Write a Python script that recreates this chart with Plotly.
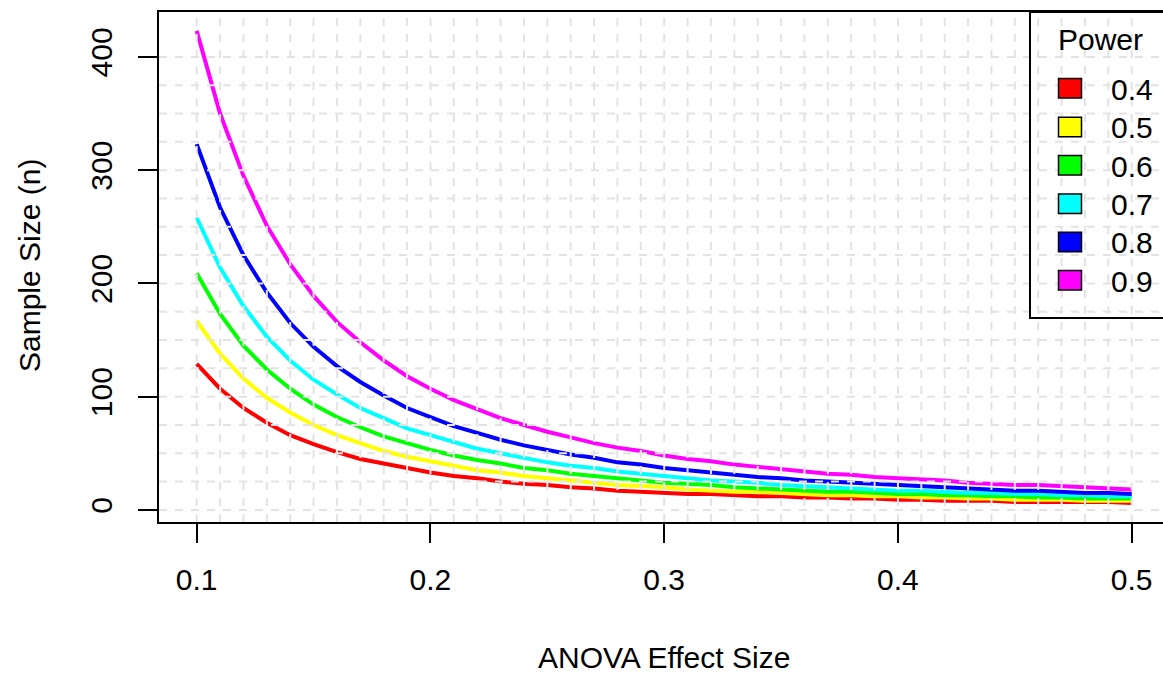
import plotly.graph_objects as go

# ---------------- data ----------------
effect_size = [0.10, 0.11, 0.12, 0.13, 0.14, 0.15, 0.16, 0.17, 0.18, 0.19,
               0.20, 0.21, 0.22, 0.23, 0.24, 0.25, 0.26, 0.27, 0.28, 0.29,
               0.30, 0.31, 0.32, 0.33, 0.34, 0.35, 0.36, 0.37, 0.38, 0.39,
               0.40, 0.41, 0.42, 0.43, 0.44, 0.45, 0.46, 0.47, 0.48, 0.49, 0.50]

n_power_04 = [129, 107, 90, 77, 66, 58, 51, 45, 41, 37, 33, 30, 28, 25, 23, 22, 20, 19, 17, 16,
              15, 14, 14, 13, 12, 12, 11, 11, 10, 10, 9, 9, 8, 8, 8, 7, 7, 7, 7, 7, 6]
n_power_05 = [167, 138, 116, 99, 86, 75, 66, 59, 52, 47, 43, 39, 35, 33, 30, 28, 26, 24, 22, 21,
              20, 18, 17, 16, 16, 15, 14, 13, 13, 12, 12, 11, 11, 10, 10, 9, 9, 9, 8, 8, 8]
n_power_06 = [209, 173, 145, 124, 107, 93, 82, 73, 65, 59, 53, 48, 44, 41, 37, 35, 32, 30, 28, 26,
              24, 23, 22, 20, 19, 18, 17, 16, 16, 15, 14, 14, 13, 13, 12, 12, 11, 11, 10, 10, 10]
n_power_07 = [258, 214, 180, 153, 132, 115, 102, 90, 81, 72, 66, 60, 54, 50, 46, 42, 39, 37, 34, 32,
              30, 28, 26, 25, 24, 22, 21, 20, 19, 18, 17, 17, 16, 15, 15, 14, 14, 13, 13, 12, 12]
n_power_08 = [323, 267, 225, 192, 165, 144, 127, 113, 101, 90, 82, 74, 68, 62, 57, 53, 49, 46, 42, 40,
              37, 35, 33, 31, 29, 28, 26, 25, 24, 23, 22, 21, 20, 19, 18, 17, 17, 16, 15, 15, 14]
n_power_09 = [423, 350, 295, 251, 217, 189, 166, 148, 132, 118, 107, 97, 89, 81, 75, 69, 64, 59, 55, 52,
              48, 45, 43, 40, 38, 36, 34, 32, 31, 29, 28, 27, 26, 24, 23, 22, 22, 21, 20, 19, 18]

power_labels = ["0.4", "0.5", "0.6", "0.7", "0.8", "0.9"]
series = [n_power_04, n_power_05, n_power_06, n_power_07, n_power_08, n_power_09]
colors = ["#FF0000", "#FFFF00", "#00FF00", "#00FFFF", "#0000FF", "#FF00FF"]

x_ticks = [0.1, 0.2, 0.3, 0.4, 0.5]
x_tick_text = ["0.1", "0.2", "0.3", "0.4", "0.5"]
y_ticks = [0, 100, 200, 300, 400]
y_tick_text = ["0", "100", "200", "300", "400"]

grid_v = [round(0.10 + 0.01 * i, 2) for i in range(41)]
grid_h = [25 * i for i in range(17)]

# ---------------- layout geometry ----------------
W, H = 1163, 673
ML, MR, MT, MB = 159, 0, 12, 151
PW = W - ML - MR
PH = H - MT - MB

FONT = "Liberation Sans, Arial, Helvetica, sans-serif"
FS = 30


def px_x(p):
    return (p - ML) / PW


def px_y(p):
    return (H - MB - p) / PH


fig = go.Figure()
for name, ys, col in zip(power_labels, series, colors):
    fig.add_trace(go.Scatter(x=effect_size, y=ys, mode="lines", name=name,
                             line=dict(color=col, width=4), showlegend=False,
                             hoverinfo="skip"))

shapes = []
grid_style = dict(color="#E3E3E3", width=2, dash="8px,8px")
for gx in grid_v:
    shapes.append(dict(type="line", xref="x", yref="paper", x0=gx, x1=gx, y0=0, y1=1,
                       line=grid_style, layer="above"))
for gy in grid_h:
    shapes.append(dict(type="line", xref="paper", yref="y", x0=0, x1=1, y0=gy, y1=gy,
                       line=grid_style, layer="above"))

# legend box (right part falls outside the window, as in the reference)
shapes.append(dict(type="rect", xref="paper", yref="paper",
                   x0=px_x(1030), x1=px_x(1175), y0=px_y(318), y1=px_y(12),
                   line=dict(color="black", width=2), fillcolor="rgba(0,0,0,0)",
                   layer="above"))
annotations = []
row_centers = [88.3, 127.0, 165.3, 203.7, 242.0, 280.3]
for lab, col, cy in zip(power_labels, colors, row_centers):
    shapes.append(dict(type="rect", xref="paper", yref="paper",
                       x0=px_x(1058.5), x1=px_x(1081.5),
                       y0=px_y(cy + 9.7), y1=px_y(cy - 9.7),
                       line=dict(color="black", width=1.5), fillcolor=col, layer="above"))
    annotations.append(dict(text=lab, xref="paper", yref="paper", x=px_x(1109), y=px_y(cy + 1),
                            xanchor="left", yanchor="middle", showarrow=False,
                            font=dict(family=FONT, size=FS, color="black")))
annotations.append(dict(text="Power", xref="paper", yref="paper", x=px_x(1100), y=px_y(39),
                        xanchor="center", yanchor="middle", showarrow=False,
                        font=dict(family=FONT, size=FS, color="black")))

# axis titles
annotations.append(dict(text="ANOVA Effect Size", xref="paper", yref="paper",
                        x=px_x(664), y=px_y(657), xanchor="center", yanchor="middle",
                        showarrow=False, font=dict(family=FONT, size=FS, color="black")))
annotations.append(dict(text="Sample Size (n)", xref="paper", yref="paper",
                        x=px_x(29), y=px_y(266), xanchor="center", yanchor="middle",
                        textangle=-90, showarrow=False,
                        font=dict(family=FONT, size=FS, color="black")))

fig.update_layout(
    width=W, height=H,
    margin=dict(l=ML, r=MR, t=MT, b=MB, pad=0),
    paper_bgcolor="white", plot_bgcolor="white",
    font=dict(family=FONT, size=FS, color="black"),
    shapes=shapes, annotations=annotations,
    showlegend=False,
    xaxis=dict(range=[0.08387, 0.51339], showgrid=False, zeroline=False,
               tickmode="array", tickvals=x_ticks, ticktext=x_tick_text,
               ticks="outside", ticklen=19, tickwidth=2, tickcolor="black",
               showline=True, linecolor="black", linewidth=2, mirror=True,
               tickfont=dict(family=FONT, size=FS, color="black"),
               ticklabelstandoff=11),
    yaxis=dict(range=[-10.68, 439.68], showgrid=False, zeroline=False,
               tickmode="array", tickvals=y_ticks, ticktext=y_tick_text,
               ticks="outside", ticklen=19, tickwidth=2, tickcolor="black",
               showline=True, linecolor="black", linewidth=2, mirror=False,
               tickangle=-90,
               tickfont=dict(family=FONT, size=FS, color="black"),
               ticklabelstandoff=14),
)

fig.write_html("out.html")
